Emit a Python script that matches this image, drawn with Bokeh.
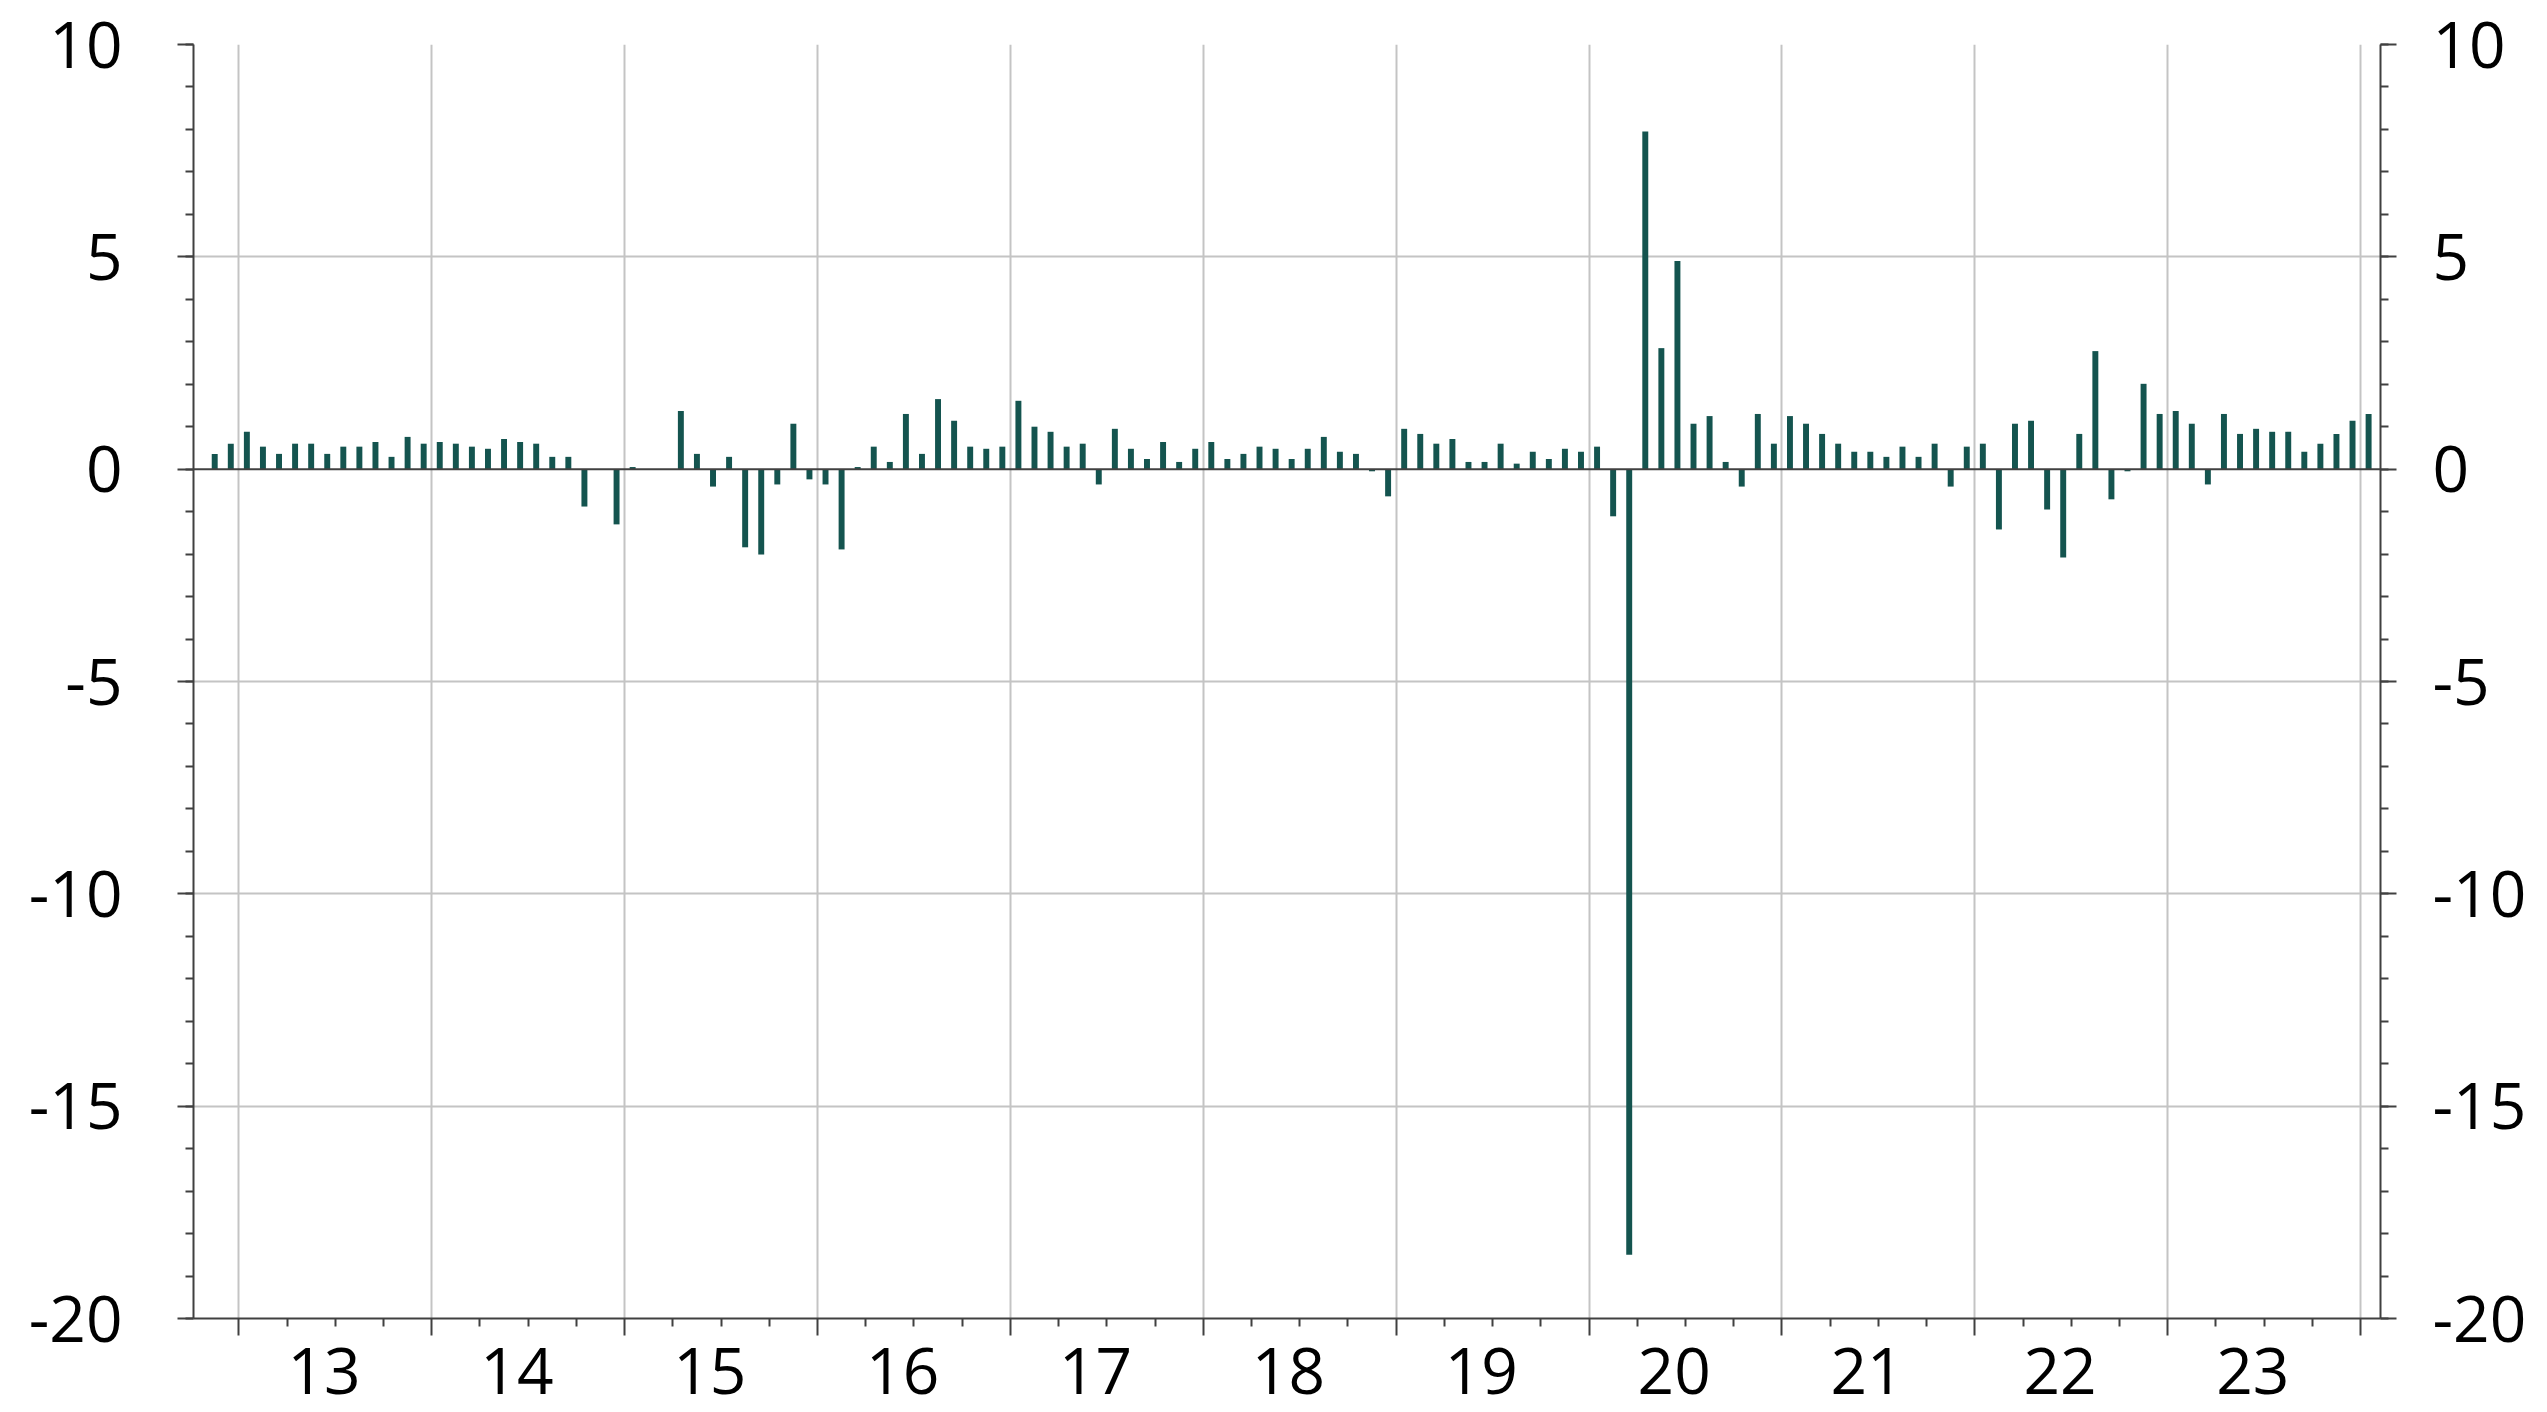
from bokeh.plotting import figure
from bokeh.models import FixedTicker, LinearAxis, Span, Range1d, ColumnDataSource, CustomLabelingPolicy
from bokeh.embed import file_html
from bokeh.resources import INLINE

# monthly values (first month of each list given next to it)
v2012 = [0.36, 0.60]  # from Nov 2012
v2013 = [0.88, 0.53, 0.36, 0.60, 0.60, 0.36, 0.53, 0.53, 0.64, 0.29, 0.76, 0.60]
v2014 = [0.64, 0.60, 0.53, 0.48, 0.71, 0.64, 0.60, 0.29, 0.29, -0.88, 0.0, -1.30]
v2015 = [0.05, 0.0, 0.0, 1.37, 0.36, -0.41, 0.29, -1.84, -2.01, -0.36, 1.07, -0.24]
v2016 = [-0.36, -1.89, 0.05, 0.53, 0.17, 1.30, 0.36, 1.65, 1.14, 0.53, 0.48, 0.53]
v2017 = [1.61, 1.00, 0.88, 0.53, 0.60, -0.36, 0.95, 0.48, 0.24, 0.64, 0.17, 0.48]
v2018 = [0.64, 0.24, 0.36, 0.53, 0.48, 0.24, 0.48, 0.76, 0.41, 0.36, -0.05, -0.64]
v2019 = [0.95, 0.83, 0.60, 0.71, 0.17, 0.17, 0.60, 0.13, 0.41, 0.24, 0.48, 0.41]
v2020 = [0.53, -1.11, -18.5, 7.95, 2.85, 4.90, 1.07, 1.25, 0.17, -0.41, 1.30, 0.60]
v2021 = [1.25, 1.07, 0.83, 0.60, 0.41, 0.41, 0.29, 0.53, 0.29, 0.60, -0.41, 0.53]
v2022 = [0.60, -1.42, 1.07, 1.14, -0.95, -2.08, 0.83, 2.78, -0.71, -0.05, 2.01, 1.30]
v2023 = [1.37, 1.07, -0.36, 1.30, 0.83, 0.95, 0.88, 0.88, 0.41, 0.60, 0.83, 1.14]
v2024 = [1.30]  # Jan 2024

series = [(2012, 11, v2012), (2013, 1, v2013), (2014, 1, v2014), (2015, 1, v2015),
          (2016, 1, v2016), (2017, 1, v2017), (2018, 1, v2018), (2019, 1, v2019),
          (2020, 1, v2020), (2021, 1, v2021), (2022, 1, v2022), (2023, 1, v2023),
          (2024, 1, v2024)]

years = [2013, 2014, 2015, 2016, 2017, 2018, 2019, 2020, 2021, 2022, 2023]
year_labels = ["13", "14", "15", "16", "17", "18", "19", "20", "21", "22", "23"]
y_ticks = [-20, -15, -10, -5, 0, 5, 10]
y_tick_labels = ["-20", "-15", "-10", "-5", "0", "5", "10"]
BASE = 2013

xs, tops = [], []
for yr, m0, vals in series:
    for i, v in enumerate(vals):
        xs.append((yr - BASE) * 12 + (m0 - 1) + i + 0.5)
        tops.append(v)
src = ColumnDataSource(dict(x=xs, top=tops))

FONT = "Open Sans"
FS = "64px"
AX = "#404040"
GRID = "#c4c4c4"
BAR = "#14544f"

p = figure(width=2547, height=1412,
           x_range=Range1d(-2.82, 133.24), y_range=Range1d(-20, 10),
           output_backend="svg", toolbar_location=None,
           min_border_left=193, min_border_right=167, min_border_top=44, min_border_bottom=94,
           x_axis_location="below", y_axis_location="left")
p.outline_line_color = None
p.background_fill_color = "white"
p.border_fill_color = "white"

year_starts = [(y - BASE) * 12 for y in years] + [(years[-1] + 1 - BASE) * 12]
quarter_ticks = [(y - BASE) * 12 + q for y in years for q in (3, 6, 9)]
label_pos = [(y - BASE) * 12 + 5.3 for y in years]

# grids
p.xgrid.ticker = FixedTicker(ticks=year_starts)
p.xgrid.grid_line_color = GRID
p.xgrid.grid_line_width = 2
p.ygrid.ticker = FixedTicker(ticks=[t for t in y_ticks if t not in (0, -20)])
p.ygrid.grid_line_color = GRID
p.ygrid.grid_line_width = 2

# bars
p.vbar(x="x", top="top", bottom=0, width=0.37, source=src, color=BAR, line_color=None)

# zero line
p.add_layout(Span(location=0, dimension="width", line_color=AX, line_width=2))

def style_y(ax, standoff):
    ax.ticker = FixedTicker(ticks=y_ticks, minor_ticks=list(range(-20, 11)))
    ax.major_label_overrides = {t: s for t, s in zip(y_ticks, y_tick_labels)}
    ax.axis_line_color = AX
    ax.axis_line_width = 2
    ax.major_tick_line_color = AX
    ax.major_tick_line_width = 2
    ax.minor_tick_line_color = AX
    ax.minor_tick_line_width = 2
    ax.major_tick_in = 0
    ax.major_tick_out = 16
    ax.minor_tick_in = 0
    ax.minor_tick_out = 8
    ax.major_label_text_font = FONT
    ax.major_label_text_font_size = FS
    ax.major_label_text_color = "black"
    ax.major_label_standoff = standoff

style_y(p.yaxis[0], 55)
right_axis = LinearAxis()
style_y(right_axis, 36)
p.add_layout(right_axis, "right")

# x axis: year boundary ticks and quarter ticks (no labels of its own)
xa = p.xaxis[0]
xa.ticker = FixedTicker(ticks=year_starts, minor_ticks=quarter_ticks)
xa.axis_line_color = AX
xa.axis_line_width = 2
xa.major_tick_line_color = AX
xa.major_tick_line_width = 2
xa.minor_tick_line_color = AX
xa.minor_tick_line_width = 2
xa.major_tick_in = 0
xa.major_tick_out = 17
xa.minor_tick_in = 0
xa.minor_tick_out = 8
xa.major_label_text_font_size = "0px"
xa.major_label_standoff = 0
xa.major_label_policy = CustomLabelingPolicy(
    code="for (const i of indices) { indices.unset(i) } return indices")

# x axis labels for each year
xl = LinearAxis(ticker=FixedTicker(ticks=label_pos),
                major_label_overrides={m: lab for m, lab in zip(label_pos, year_labels)})
xl.axis_line_color = None
xl.major_tick_line_color = None
xl.minor_tick_line_color = None
xl.major_tick_in = 0
xl.major_tick_out = 0
xl.major_label_text_font = FONT
xl.major_label_text_font_size = FS
xl.major_label_text_color = "black"
xl.major_label_standoff = 12
p.add_layout(xl, "below")

open("out.html", "w").write(file_html(p, INLINE))
